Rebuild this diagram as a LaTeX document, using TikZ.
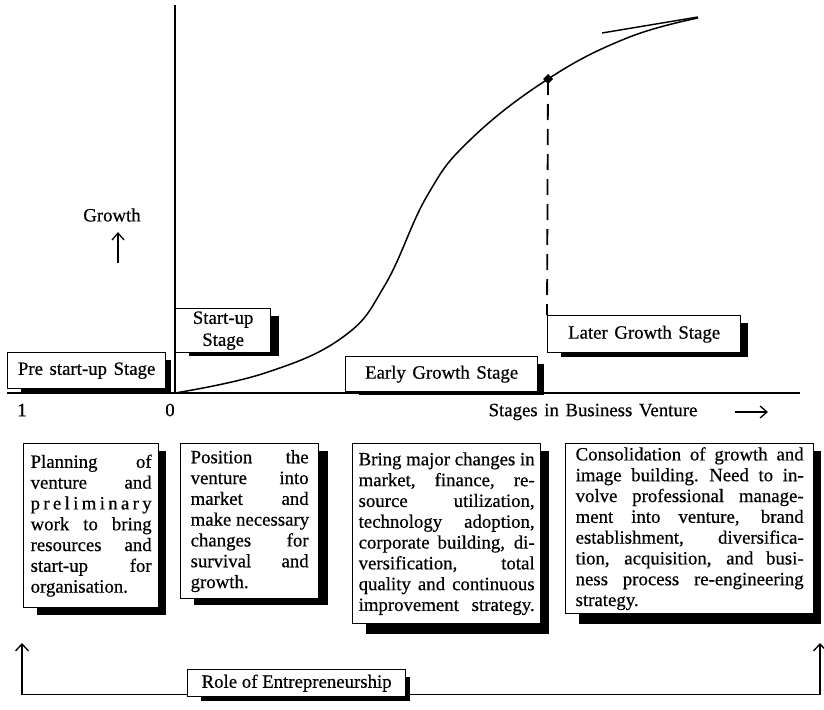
\documentclass[tikz,border=0pt]{standalone}
\usepackage{fontspec}
\setmainfont{Liberation Serif}[FakeBold=0.5]
\usetikzlibrary{arrows.meta,calc,backgrounds}
\newcommand\jl[1]{\hbox to \hsize{\spaceskip=0.25em plus 1fil\xspaceskip=0.3em plus 1fil\relax #1}}
\newcommand\nl[1]{\hbox{#1}}
\newcommand\lsp[1]{\hbox to \hsize{#1}}
\newcommand\widesp{\spaceskip=0.35em\relax}
\newcommand\shad[3]{%
  \fill ($(#1.south west)+(14,0)$) rectangle ($(#1.south east)+(#2,#3)$);
  \fill ($(#1.north east)+(0,8)$) rectangle ($(#1.south east)+(#2,#3)$);}
\tikzset{
  every node/.style={font=\fontsize{18.8}{20.8}\selectfont},
  lbl/.style={draw, line width=1.3pt, fill=white, anchor=north west, inner sep=0pt},
  bigbox/.style={draw, line width=1.3pt, fill=white, anchor=north west, inner ysep=0pt},
  axisline/.style={line width=1.8pt},
  conn/.style={line width=1.3pt, -{Straight Barb[length=7pt,width=13pt,line width=1.3pt]}},
}
\begin{document}
\begin{tikzpicture}[x=1pt,y=-1pt]
\useasboundingbox (0,0) rectangle (824,709);
% axes
\coordinate (xa0) at (7,393);
\coordinate (xa1) at (800,393);
\coordinate (ya0) at (175,393);
\coordinate (ya1) at (175,5);
\draw[axisline] (xa0) -- (xa1);
\draw[axisline] (ya0) -- (ya1);
% growth curve
\draw[line width=1.5pt] plot[smooth, tension=0.7] coordinates {
  (175,393) (265,373) (343,337) (385,285) (427,196) (470,140)
  (548,79) (627,38) (698,18)};
\coordinate (t0) at (602,33);
\coordinate (t1) at (698,17);
\draw[line width=1.4pt] (t0) -- (t1);
% marker and dashed drop line
\coordinate (dot) at (548,79);
\fill (dot) ++(0,-5) -- ++(5,5) -- ++(-5,5) -- ++(-5,-5) -- cycle;
% stage labels
\node[lbl, minimum width=158pt, minimum height=36pt] (pre) at (7,352) {\widesp Pre start-up Stage};
\node[lbl, minimum width=95pt, minimum height=44pt, align=center, font=\fontsize{18.8}{22}\selectfont] (start) at (175,308) {Start-up\\Stage};
\node[lbl, minimum width=192pt, minimum height=35pt] (early) at (345,356) {\widesp Early Growth Stage};
\node[lbl, minimum width=193pt, minimum height=37pt] (later) at (547,315) {\widesp Later Growth Stage};
\draw[line width=1.8pt, dash pattern=on 16pt off 9pt] (dot) -- (later.north west);
% axis texts
\node (one) at (22,410) {1};
\node (zero) at (170,410) {0};
\node (stages) at (593,412) {\widesp Stages in Business Venture};
\coordinate (ra0) at (735,412);
\coordinate (ra1) at (768,412);
\draw[line width=1.3pt, -{Straight Barb[length=7pt,width=12pt,line width=1.3pt]}] (ra0) -- (ra1);
\node (growth) at (112,215) {Growth};
\coordinate (ua0) at (118,263);
\coordinate (ua1) at (118,232);
\draw[line width=1.3pt, -{Straight Barb[length=7pt,width=12pt,line width=1.3pt]}] (ua0) -- (ua1);
% description boxes
\node[bigbox, inner xsep=7pt, minimum height=164pt] (b1) at (23,443) {\vbox{\hsize=121pt
 \jl{Planning of}
 \jl{venture and}
 \lsp{p\hfil r\hfil e\hfil l\hfil i\hfil m\hfil i\hfil n\hfil a\hfil r\hfil y}
 \jl{work to bring}
 \jl{resources and}
 \jl{start-up for}
 \nl{organisation.}}};
\node[bigbox, inner xsep=10pt, minimum height=155pt] (b2) at (180,443) {\vbox{\hsize=118pt
 \jl{Position the}
 \jl{venture into}
 \jl{market and}
 \jl{make necessary}
 \jl{changes for}
 \jl{survival and}
 \nl{growth.}}};
\node[bigbox, inner xsep=6pt, minimum height=180pt] (b3) at (352,443) {\vbox{\hsize=176pt
 \jl{Bring major changes in}
 \jl{market, finance, re-}
 \jl{source utilization,}
 \jl{technology adoption,}
 \jl{corporate building, di-}
 \jl{versification, total}
 \jl{quality and continuous}
 \jl{improvement strategy.}}};
\node[bigbox, inner xsep=10pt, minimum height=170pt] (b4) at (565,443) {\vbox{\hsize=228pt
 \jl{Consolidation of growth and}
 \jl{image building. Need to in-}
 \jl{volve professional manage-}
 \jl{ment into venture, brand}
 \jl{establishment, diversifica-}
 \jl{tion, acquisition, and busi-}
 \jl{ness process re-engineering}
 \nl{strategy.}}};
% role of entrepreneurship
\node[lbl, minimum width=218pt, minimum height=27pt] (role) at (187,669) {Role of Entrepreneurship};
\coordinate (la) at (22,643);
\coordinate (rb) at (820,643);
\draw[conn] ([yshift=3pt]role.south west) -| (la);
\draw[conn] ([yshift=3pt]role.south east) -| (rb);
% shadows
\begin{scope}[on background layer]
\shad{pre}{5}{4}
\shad{start}{8}{3}
\shad{early}{6}{3}
\shad{later}{7}{4}
\shad{b1}{7}{7}
\shad{b2}{9}{6}
\shad{b3}{8}{10}
\shad{b4}{7}{10}
\shad{role}{4}{4}
\end{scope}
\end{tikzpicture}
\end{document}
